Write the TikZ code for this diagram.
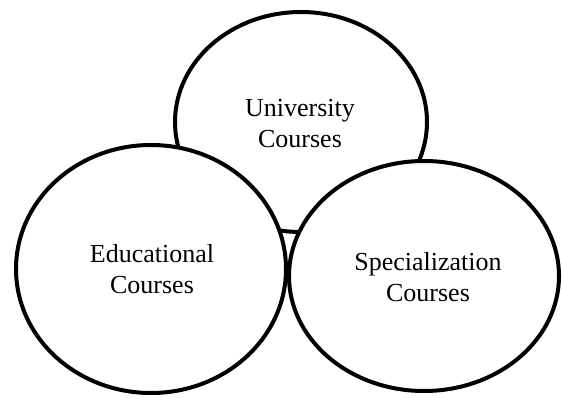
\documentclass[tikz,border=0pt]{standalone}
\usepackage{fontspec}
\setmainfont{Liberation Serif}
\usetikzlibrary{shapes.geometric}
\begin{document}
\begin{tikzpicture}[x=1pt,y=-1pt,
  ell/.style={ellipse, draw=black, fill=white, line width=4pt, inner sep=0pt},
  lbl/.style={align=center, font=\fontsize{26}{31}\selectfont, inner sep=0pt}]
\useasboundingbox (0,0) rectangle (562,398);
\node[ell, minimum width=252pt, minimum height=220pt] (U) at (301,122) {};
\node[ell, minimum width=270pt, minimum height=248pt] (E) at (151,269) {};
\node[ell, minimum width=270pt, minimum height=230pt] (S) at (424,276) {};
\node[lbl] (Ut) at (300,124) {University\\Courses};
\node[lbl] (Et) at (152,269) {Educational\\Courses};
\node[lbl] (St) at (428,277) {Specialization\\Courses};
\end{tikzpicture}
\end{document}
